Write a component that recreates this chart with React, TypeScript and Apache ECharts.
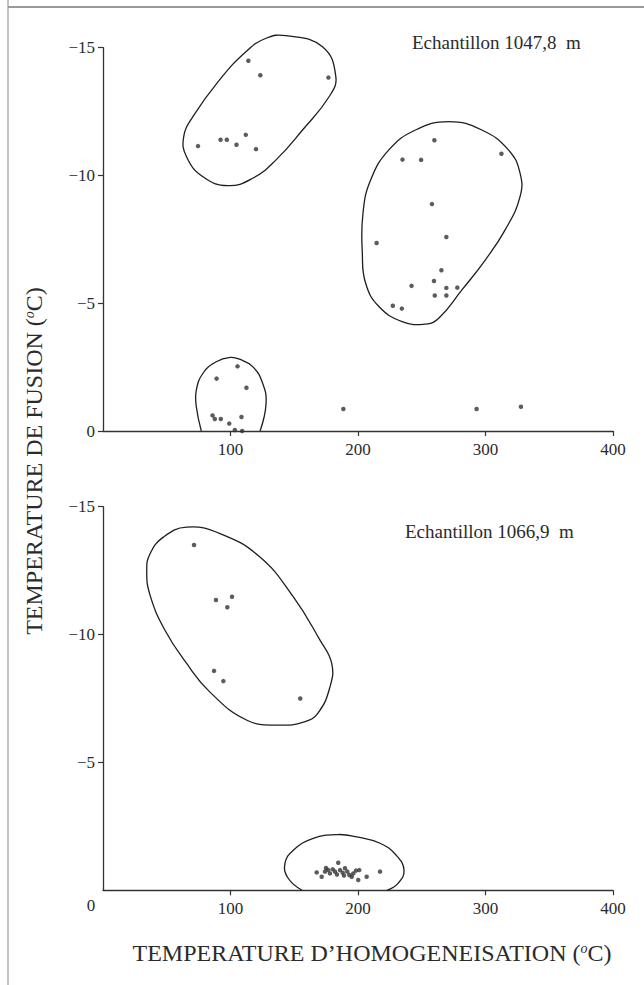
import React, { useEffect, useRef } from 'react';
import * as echarts from 'echarts';

// ---------- axes / labels ----------
const xTickValues = [100, 200, 300, 400];
const yTickValuesTop = [-15, -10, -5, 0];
const yTickValuesBottom = [-15, -10, -5];
const sampleTopTitle = 'Echantillon 1047,8  m';
const sampleBottomTitle = 'Echantillon 1066,9  m';
const yTitle = 'TEMPERATURE DE FUSION ({s|o}C)';
const xTitle = 'TEMPERATURE D\u2019HOMOGENEISATION ({s|o}C)';

// ---------- sample 1047,8 m : (Th, Tf) ----------
const top1047Points: [number, number][] = [
  [114, -14.49], [123.4, -13.92], [176.8, -13.83], [74.5, -11.15], [92.2, -11.4],
  [97.1, -11.4], [104.7, -11.2], [112, -11.59], [120, -11.03],
  [259.9, -11.38], [312.5, -10.85], [234.9, -10.62], [249.5, -10.61], [258, -8.88],
  [269.3, -7.59], [214.6, -7.36], [265.4, -6.29], [259.6, -5.87], [242, -5.68],
  [269.3, -5.6], [277.9, -5.61], [260.2, -5.3], [269.3, -5.3], [227.3, -4.9], [234.4, -4.79],
  [105.5, -2.53], [89.1, -2.05], [112.5, -1.69], [85.9, -0.61], [87.7, -0.47],
  [92.4, -0.47], [99, -0.29], [108.6, -0.55], [103.4, -0.04], [109.1, 0],
  [188.5, -0.86], [293, -0.86], [327.8, -0.95],
];
// envelope outlines (data units)
const top1047GroupA: [number, number][] = [
  [143.5, -15.47], [172.1, -15.04], [182.6, -13.87], [177.3, -13.08], [156.5, -11.78],
  [135.7, -10.61], [117.4, -9.89], [97.9, -9.6], [78.4, -9.95], [65.4, -10.74],
  [63.3, -11.52], [70.5, -12.3], [91.4, -13.74], [112.3, -14.85], [127.9, -15.37],
];
const top1047GroupB: [number, number][] = [
  [271.1, -12.11], [297.1, -11.78], [318, -11.0], [327.1, -10.09], [327.1, -9.17],
  [315.4, -7.87], [299.8, -6.69], [281.5, -5.52], [263.3, -4.41], [252.9, -4.18],
  [234.6, -4.28], [216.4, -4.87], [206, -5.78], [203.4, -6.95], [203.9, -8.52],
  [209.9, -9.82], [224.2, -11.0], [245.1, -11.78],
];
const top1047GroupC: [number, number][] = [
  [77.1, 0], [73.2, -0.95], [73.2, -1.6], [78.4, -2.26], [88.8, -2.71], [99.8, -2.88],
  [107, -2.81], [117.4, -2.52], [125.2, -1.87], [127.9, -1.08], [123.2, 0],
];

// ---------- sample 1066,9 m ----------
const bottom1066Points: [number, number][] = [
  [71.4, -13.5], [88.6, -11.35], [101.2, -11.48], [97.5, -11.07], [87.1, -8.58],
  [94.4, -8.18], [154.7, -7.5],
  [167.6, -0.7], [171.5, -0.53], [174.1, -0.73], [176.7, -0.79], [178, -0.66],
  [180.2, -0.82], [182, -0.73], [184.5, -1.08], [185.9, -0.79], [188, -0.69],
  [189.8, -0.86], [191.6, -0.73], [193.2, -0.6], [195.1, -0.53], [196.3, -0.66],
  [198.4, -0.77], [200.2, -0.4], [201, -0.79], [206.8, -0.53], [217.3, -0.73],
  [174.9, -0.87], [183.5, -0.62], [189, -0.58],
];
const bottom1066GroupA: [number, number][] = [
  [65.6, -14.2], [91.8, -13.95], [123.1, -13.03], [149.3, -11.47], [170.2, -9.78],
  [179.4, -8.87], [178, -7.95], [168.6, -6.93], [158, -6.59], [138.7, -6.46],
  [112.9, -6.65], [83.9, -7.75], [65.6, -8.87], [48.6, -10.17], [36.9, -11.54],
  [34.3, -12.51], [36.9, -13.16], [47.3, -13.81],
];
const bottom1066GroupB: [number, number][] = [
  [156.1, 0], [145.1, -0.48], [142.7, -1.05], [149.3, -1.57], [164.9, -2.03],
  [184.3, -2.18], [199, -2.09], [217.3, -1.84], [229.8, -1.38], [236.1, -0.79],
  [231.4, -0.27], [222.7, 0],
];

const FONT = '"Liberation Serif", "DejaVu Serif", serif';
const INK = '#2b2b2b';

function outlineSeries(idx: number, pts: [number, number][], closed: boolean) {
  return {
    type: 'custom',
    xAxisIndex: idx,
    yAxisIndex: idx,
    coordinateSystem: 'cartesian2d',
    data: [pts[0]],
    clip: false,
    silent: true,
    z: 3,
    renderItem: (_params: any, api: any) => {
      const p = pts.map((q) => api.coord(q));
      return {
        type: closed ? 'polygon' : 'polyline',
        shape: { points: p, smooth: 0.45 },
        style: { fill: 'none', stroke: '#1e1e1e', lineWidth: 1.3 },
      };
    },
  };
}

function xAxisCfg(idx: number) {
  return {
    gridIndex: idx,
    type: 'value',
    min: 0,
    max: 400,
    interval: 100,
    splitLine: { show: false },
    axisLine: { show: true, onZero: false, lineStyle: { color: '#333', width: 1.3 } },
    axisTick: { show: true, customValues: xTickValues, length: 5, lineStyle: { color: '#333', width: 1.2 } },
    axisLabel: { customValues: xTickValues, fontSize: 17, fontFamily: FONT, color: INK, margin: 10 },
  };
}

function yAxisCfg(idx: number, ticks: number[]) {
  return {
    gridIndex: idx,
    type: 'value',
    min: -15,
    max: 0,
    interval: 5,
    inverse: true,
    splitLine: { show: false },
    axisLine: { show: true, onZero: false, lineStyle: { color: '#333', width: 1.3 } },
    axisTick: { show: true, customValues: ticks, length: 5, lineStyle: { color: '#333', width: 1.2 } },
    axisLabel: {
      customValues: ticks,
      fontSize: 17,
      fontFamily: FONT,
      color: INK,
      margin: 8,
      formatter: (v: number) => (v === 0 ? '0' : '\u2212' + Math.abs(v)),
    },
  };
}

export default function App() {
  const ref = useRef<HTMLDivElement>(null);
  useEffect(() => {
    document.body.style.margin = '0';
    const chart = echarts.init(ref.current!, null, { renderer: 'svg' });
    const supRich = { s: { fontSize: 14, fontStyle: 'italic', fontFamily: FONT, fill: INK, verticalAlign: 'top' } };
    chart.setOption({
      animation: false,
      backgroundColor: '#ffffff',
      grid: [
        { left: 103, top: 47.7, width: 510, height: 383.3 },
        { left: 103, top: 506.7, width: 510, height: 383.6 },
      ],
      xAxis: [xAxisCfg(0), xAxisCfg(1)],
      yAxis: [yAxisCfg(0, yTickValuesTop), yAxisCfg(1, yTickValuesBottom)],
      series: [
        outlineSeries(0, top1047GroupA, true),
        outlineSeries(0, top1047GroupB, true),
        outlineSeries(0, top1047GroupC, false),
        outlineSeries(1, bottom1066GroupA, true),
        outlineSeries(1, bottom1066GroupB, false),
        {
          type: 'scatter', xAxisIndex: 0, yAxisIndex: 0, data: top1047Points,
          symbolSize: 4.5, clip: false, itemStyle: { color: '#333' }, silent: true, z: 4,
        },
        {
          type: 'scatter', xAxisIndex: 1, yAxisIndex: 1, data: bottom1066Points,
          symbolSize: 4.5, clip: false, itemStyle: { color: '#333' }, silent: true, z: 4,
        },
      ],
      graphic: [
        { type: 'line', shape: { x1: 8, y1: 7, x2: 644, y2: 7 }, style: { stroke: '#777', lineWidth: 1.5 } },
        { type: 'line', shape: { x1: 8, y1: 0, x2: 8, y2: 985 }, style: { stroke: '#999', lineWidth: 1.2 } },
        {
          type: 'text', x: 412, y: 42,
          style: { text: sampleTopTitle, font: `19px ${FONT}`, fill: INK, textAlign: 'left', textVerticalAlign: 'middle' },
        },
        {
          type: 'text', x: 405, y: 531,
          style: { text: sampleBottomTitle, font: `19px ${FONT}`, fill: INK, textAlign: 'left', textVerticalAlign: 'middle' },
        },
        {
          type: 'text', x: 91, y: 905,
          style: { text: '0', font: `17px ${FONT}`, fill: INK, textAlign: 'center', textVerticalAlign: 'middle' },
        },
        {
          type: 'text', x: 34, y: 461, rotation: Math.PI / 2,
          style: {
            text: yTitle, font: `24px ${FONT}`, fill: INK, textAlign: 'center', textVerticalAlign: 'middle',
            rich: supRich,
          },
        },
        {
          type: 'text', x: 372, y: 953,
          style: {
            text: xTitle, font: `24px ${FONT}`, fill: INK, textAlign: 'center', textVerticalAlign: 'middle',
            rich: supRich,
          },
        },
      ],
    });
    return () => chart.dispose();
  }, []);
  return <div ref={ref} style={{ width: 644, height: 985 }} />;
}
